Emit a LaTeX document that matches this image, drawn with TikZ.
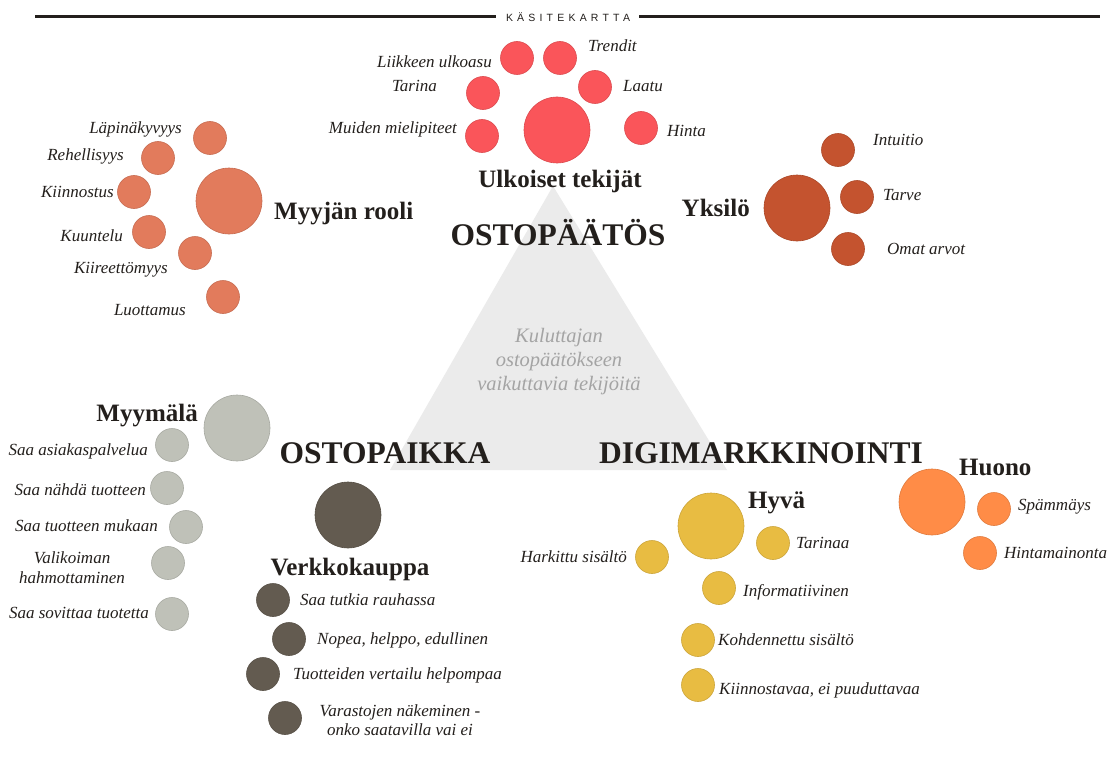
\documentclass[tikz,border=0pt]{standalone}
\usepackage{fontspec}
\setmainfont{Liberation Serif}
\newfontfamily\hdrfont[LetterSpace=40]{Liberation Sans}
\definecolor{txt}{HTML}{231F1C}
\definecolor{tri}{HTML}{EBEBEB}
\definecolor{tritxt}{HTML}{A4A4A4}
\definecolor{cRed}{HTML}{FA555A}
\definecolor{cSal}{HTML}{E27B5C}
\definecolor{cRust}{HTML}{C4532F}
\definecolor{cGray}{HTML}{BFC1B8}
\definecolor{cDark}{HTML}{635B50}
\definecolor{cYel}{HTML}{E8BC42}
\definecolor{cOra}{HTML}{FF8C47}
\tikzset{
  dot/.style={circle, inner sep=0pt, minimum size=33pt, fill=#1, draw=#1!88!black, line width=0.6pt},
  bigdot/.style={circle, inner sep=0pt, minimum size=66pt, fill=#1, draw=#1!88!black, line width=0.6pt},
  lab/.style={text=txt, inner sep=0pt, font=\fontsize{17}{19}\selectfont\itshape},
  head/.style={text=txt, inner sep=0pt, font=\fontsize{25}{27}\selectfont\bfseries},
  title/.style={text=txt, inner sep=0pt, font=\fontsize{31.5}{33}\selectfont\bfseries},
  hline/.style={line width=3pt, txt}
}
\begin{document}
\begin{tikzpicture}[x=1pt,y=-1pt]
\useasboundingbox (0,0) rectangle (1113,773);
\fill[white] (0,0) rectangle (1113,773);
% header
\node[inner sep=0pt, text=txt, font=\hdrfont\fontsize{10.5}{12}\selectfont] (hdr) at (568,17) {KÄSITEKARTTA};
\coordinate (hl) at (35,17);
\coordinate (hr) at (1100,17);
\draw[hline] (hl) -- (hdr.west -| 496,0);
\draw[hline] (hdr.east -| 639,0) -- (hr);
% triangle
\coordinate (ta) at (553,186);
\coordinate (tl) at (390,470);
\coordinate (tr) at (727,470);
\fill[tri] (ta) -- (tl) -- (tr) -- cycle;
\node[align=center, text=tritxt, inner sep=0pt, font=\fontsize{20.5}{24}\selectfont\itshape] (tritext) at (559,362) {Kuluttajan\\ostopäätökseen\\vaikuttavia tekijöitä};
% titles
\node[title] (t1) at (558,233) {OSTOPÄÄTÖS};
\node[title] (t2) at (385,453) {OSTOPAIKKA};
\node[title] (t3) at (761,453) {DIGIMARKKINOINTI};

% Ulkoiset tekijat (red)
\node[bigdot=cRed] (u0) at (557,130) {};
\node[dot=cRed] (u1) at (517,58) {};
\node[dot=cRed] (u2) at (560,58) {};
\node[dot=cRed] (u3) at (483,93) {};
\node[dot=cRed] (u4) at (595,87) {};
\node[dot=cRed] (u5) at (482,136) {};
\node[dot=cRed] (u6) at (641,128) {};
\node[lab, anchor=east] (lu1) at (492,62) {Liikkeen ulkoasu};
\node[lab, anchor=west] (lu2) at (588,46) {Trendit};
\node[lab, anchor=east] (lu3) at (437,86) {Tarina};
\node[lab, anchor=west] (lu4) at (623,86) {Laatu};
\node[lab, anchor=east] (lu5) at (457,129) {Muiden mielipiteet};
\node[lab, anchor=west] (lu6) at (667,131) {Hinta};
\node[head] (hu) at (560,181) {Ulkoiset tekijät};

% Myyjan rooli (salmon)
\node[bigdot=cSal] (m0) at (229,201) {};
\node[dot=cSal] (m1) at (210,138) {};
\node[dot=cSal] (m2) at (158,158) {};
\node[dot=cSal] (m3) at (134,192) {};
\node[dot=cSal] (m4) at (149,232) {};
\node[dot=cSal] (m5) at (195,253) {};
\node[dot=cSal] (m6) at (223,297) {};
\node[lab, anchor=east] (lm1) at (182,129) {Läpinäkyvyys};
\node[lab, anchor=east] (lm2) at (124,156) {Rehellisyys};
\node[lab, anchor=east] (lm3) at (114,192) {Kiinnostus};
\node[lab, anchor=east] (lm4) at (123,236) {Kuuntelu};
\node[lab, anchor=east] (lm5) at (168,270) {Kiireettömyys};
\node[lab, anchor=east] (lm6) at (186,310) {Luottamus};
\node[head, anchor=west] (hm) at (274,214) {Myyjän rooli};

% Yksilo (rust)
\node[bigdot=cRust] (y0) at (797,208) {};
\node[dot=cRust] (y1) at (838,150) {};
\node[dot=cRust] (y2) at (857,197) {};
\node[dot=cRust] (y3) at (848,249) {};
\node[lab, anchor=west] (ly1) at (873,140) {Intuitio};
\node[lab, anchor=west] (ly2) at (883,195) {Tarve};
\node[lab, anchor=west] (ly3) at (887,249) {Omat arvot};
\node[head, anchor=east] (hy) at (750,208) {Yksilö};

% Myymala (gray)
\node[bigdot=cGray] (g0) at (237,428) {};
\node[dot=cGray] (g1) at (172,445) {};
\node[dot=cGray] (g2) at (167,488) {};
\node[dot=cGray] (g3) at (186,527) {};
\node[dot=cGray] (g4) at (168,563) {};
\node[dot=cGray] (g5) at (172,614) {};
\node[lab, anchor=east] (lg1) at (148,451) {Saa asiakaspalvelua};
\node[lab, anchor=east] (lg2) at (146,490) {Saa nähdä tuotteen};
\node[lab, anchor=east] (lg3) at (158,526) {Saa tuotteen mukaan};
\node[lab, align=center, font=\fontsize{17}{20}\selectfont\itshape] (lg4) at (72,568) {Valikoiman\\hahmottaminen};
\node[lab, anchor=east] (lg5) at (149,613) {Saa sovittaa tuotetta};
\node[head, anchor=east] (hg) at (198,416) {Myymälä};

% Verkkokauppa (dark)
\node[bigdot=cDark] (d0) at (348,515) {};
\node[dot=cDark] (d1) at (273,600) {};
\node[dot=cDark] (d2) at (289,639) {};
\node[dot=cDark] (d3) at (263,674) {};
\node[dot=cDark] (d4) at (285,718) {};
\node[lab, anchor=west] (ld1) at (300,600) {Saa tutkia rauhassa};
\node[lab, anchor=west] (ld2) at (317,640) {Nopea, helppo, edullinen};
\node[lab, anchor=west] (ld3) at (293,675) {Tuotteiden vertailu helpompaa};
\node[lab, align=center, font=\fontsize{17}{19}\selectfont\itshape] (ld4) at (400,720) {Varastojen näkeminen -\\onko saatavilla vai ei};
\node[head] (hd) at (350,569) {Verkkokauppa};

% Hyva (yellow)
\node[bigdot=cYel] (h0) at (711,526) {};
\node[dot=cYel] (h1) at (773,543) {};
\node[dot=cYel] (h2) at (652,557) {};
\node[dot=cYel] (h3) at (719,588) {};
\node[dot=cYel] (h4) at (698,640) {};
\node[dot=cYel] (h5) at (698,685) {};
\node[lab, anchor=west] (lh1) at (796,543) {Tarinaa};
\node[lab, anchor=east] (lh2) at (627,557) {Harkittu sisältö};
\node[lab, anchor=west] (lh3) at (743,592) {Informatiivinen};
\node[lab, anchor=west] (lh4) at (718,640) {Kohdennettu sisältö};
\node[lab, anchor=west] (lh5) at (719,690) {Kiinnostavaa, ei puuduttavaa};
\node[head, anchor=west] (hh) at (748,503) {Hyvä};

% Huono (orange)
\node[bigdot=cOra] (o0) at (932,502) {};
\node[dot=cOra] (o1) at (994,509) {};
\node[dot=cOra] (o2) at (980,553) {};
\node[lab, anchor=west] (lo1) at (1018,507) {Spämmäys};
\node[lab, anchor=west] (lo2) at (1004,553) {Hintamainonta};
\node[head, anchor=west] (ho) at (959,467) {Huono};
\end{tikzpicture}
\end{document}
